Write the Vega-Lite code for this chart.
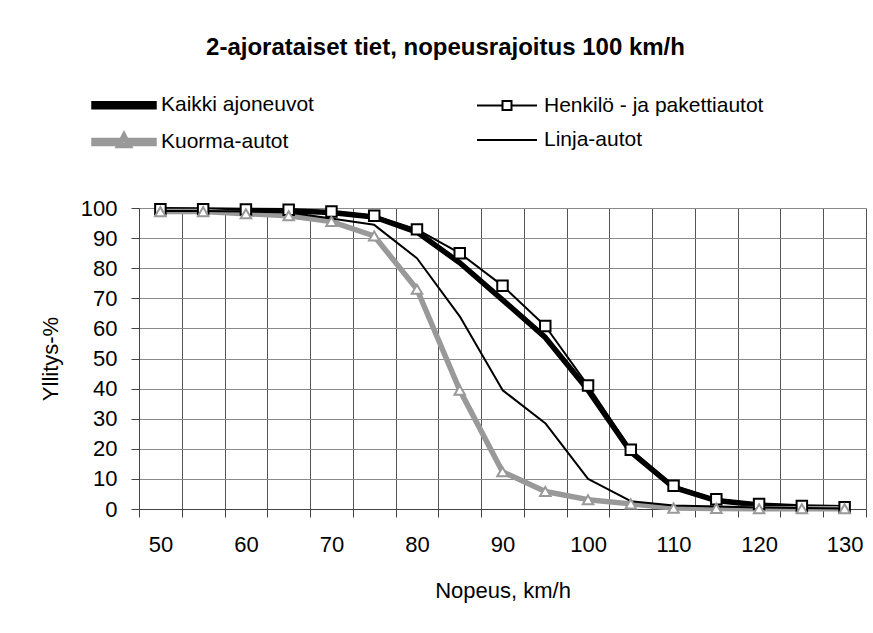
{
  "$schema": "https://vega.github.io/schema/vega-lite/v6.json",
  "width": 727,
  "height": 301,
  "autosize": {"type": "none"},
  "padding": {"left": 139, "top": 208, "right": 7, "bottom": 124},
  "background": "white",
  "config": {
    "view": {"stroke": null},
    "font": "Liberation Sans"
  },
  "title": {
    "text": "2-ajorataiset tiet, nopeusrajoitus 100 km/h",
    "font": "Liberation Sans",
    "fontSize": 24,
    "fontWeight": "bold",
    "color": "black",
    "anchor": "middle",
    "frame": "group",
    "dx": -57,
    "offset": 32
  },
  "data": {
    "values": [
      {"speed": 50, "series": "Kaikki ajoneuvot", "pct": 99.4},
      {"speed": 55, "series": "Kaikki ajoneuvot", "pct": 99.3},
      {"speed": 60, "series": "Kaikki ajoneuvot", "pct": 99.2},
      {"speed": 65, "series": "Kaikki ajoneuvot", "pct": 99.1},
      {"speed": 70, "series": "Kaikki ajoneuvot", "pct": 98.5},
      {"speed": 75, "series": "Kaikki ajoneuvot", "pct": 97.0},
      {"speed": 80, "series": "Kaikki ajoneuvot", "pct": 92.0},
      {"speed": 85, "series": "Kaikki ajoneuvot", "pct": 81.8},
      {"speed": 90, "series": "Kaikki ajoneuvot", "pct": 69.5},
      {"speed": 95, "series": "Kaikki ajoneuvot", "pct": 57.0},
      {"speed": 100, "series": "Kaikki ajoneuvot", "pct": 39.5},
      {"speed": 105, "series": "Kaikki ajoneuvot", "pct": 19.0},
      {"speed": 110, "series": "Kaikki ajoneuvot", "pct": 7.2},
      {"speed": 115, "series": "Kaikki ajoneuvot", "pct": 2.8},
      {"speed": 120, "series": "Kaikki ajoneuvot", "pct": 1.3},
      {"speed": 125, "series": "Kaikki ajoneuvot", "pct": 0.7},
      {"speed": 130, "series": "Kaikki ajoneuvot", "pct": 0.4},
      {"speed": 50, "series": "Henkilö - ja pakettiautot", "pct": 99.6},
      {"speed": 55, "series": "Henkilö - ja pakettiautot", "pct": 99.6},
      {"speed": 60, "series": "Henkilö - ja pakettiautot", "pct": 99.5},
      {"speed": 65, "series": "Henkilö - ja pakettiautot", "pct": 99.4},
      {"speed": 70, "series": "Henkilö - ja pakettiautot", "pct": 98.8},
      {"speed": 75, "series": "Henkilö - ja pakettiautot", "pct": 97.4},
      {"speed": 80, "series": "Henkilö - ja pakettiautot", "pct": 92.9},
      {"speed": 85, "series": "Henkilö - ja pakettiautot", "pct": 85.0},
      {"speed": 90, "series": "Henkilö - ja pakettiautot", "pct": 74.2},
      {"speed": 95, "series": "Henkilö - ja pakettiautot", "pct": 60.8},
      {"speed": 100, "series": "Henkilö - ja pakettiautot", "pct": 41.0},
      {"speed": 105, "series": "Henkilö - ja pakettiautot", "pct": 19.7},
      {"speed": 110, "series": "Henkilö - ja pakettiautot", "pct": 7.7},
      {"speed": 115, "series": "Henkilö - ja pakettiautot", "pct": 3.2},
      {"speed": 120, "series": "Henkilö - ja pakettiautot", "pct": 1.7},
      {"speed": 125, "series": "Henkilö - ja pakettiautot", "pct": 1.0},
      {"speed": 130, "series": "Henkilö - ja pakettiautot", "pct": 0.6},
      {"speed": 50, "series": "Kuorma-autot", "pct": 98.8},
      {"speed": 55, "series": "Kuorma-autot", "pct": 98.8},
      {"speed": 60, "series": "Kuorma-autot", "pct": 98.1},
      {"speed": 65, "series": "Kuorma-autot", "pct": 97.4},
      {"speed": 70, "series": "Kuorma-autot", "pct": 95.5},
      {"speed": 75, "series": "Kuorma-autot", "pct": 90.7},
      {"speed": 80, "series": "Kuorma-autot", "pct": 73.0},
      {"speed": 85, "series": "Kuorma-autot", "pct": 39.5},
      {"speed": 90, "series": "Kuorma-autot", "pct": 12.4},
      {"speed": 95, "series": "Kuorma-autot", "pct": 5.8},
      {"speed": 100, "series": "Kuorma-autot", "pct": 3.1},
      {"speed": 105, "series": "Kuorma-autot", "pct": 1.7},
      {"speed": 110, "series": "Kuorma-autot", "pct": 0.3},
      {"speed": 115, "series": "Kuorma-autot", "pct": 0.2},
      {"speed": 120, "series": "Kuorma-autot", "pct": 0.1},
      {"speed": 125, "series": "Kuorma-autot", "pct": 0.1},
      {"speed": 130, "series": "Kuorma-autot", "pct": 0.1},
      {"speed": 50, "series": "Linja-autot", "pct": 99.0},
      {"speed": 55, "series": "Linja-autot", "pct": 99.0},
      {"speed": 60, "series": "Linja-autot", "pct": 98.8},
      {"speed": 65, "series": "Linja-autot", "pct": 98.5},
      {"speed": 70, "series": "Linja-autot", "pct": 96.5},
      {"speed": 75, "series": "Linja-autot", "pct": 94.4},
      {"speed": 80, "series": "Linja-autot", "pct": 83.3},
      {"speed": 85, "series": "Linja-autot", "pct": 64.0},
      {"speed": 90, "series": "Linja-autot", "pct": 39.5},
      {"speed": 95, "series": "Linja-autot", "pct": 28.5},
      {"speed": 100, "series": "Linja-autot", "pct": 10.0},
      {"speed": 105, "series": "Linja-autot", "pct": 2.6},
      {"speed": 110, "series": "Linja-autot", "pct": 1.2},
      {"speed": 115, "series": "Linja-autot", "pct": 0.8},
      {"speed": 120, "series": "Linja-autot", "pct": 0.5},
      {"speed": 125, "series": "Linja-autot", "pct": 0.3},
      {"speed": 130, "series": "Linja-autot", "pct": 0.2}
    ]
  },
  "encoding": {
    "x": {
      "field": "speed",
      "type": "ordinal",
      "bandPosition": 0.5,
      "scale": {"type": "band", "paddingInner": 0, "paddingOuter": 0},
      "axis": {
        "title": "Nopeus, km/h",
        "titleFont": "Liberation Sans",
        "titleFontSize": 22,
        "titleFontWeight": "normal",
        "titleColor": "black",
        "titlePadding": 25,
        "labelFont": "Liberation Sans",
        "labelFontSize": 22,
        "labelColor": "black",
        "labelAngle": 0,
        "labelPadding": 17,
        "labelExpr": "datum.value % 10 === 0 ? datum.label : ''",
        "tickBand": "extent",
        "tickSize": 8,
        "tickColor": "#444444",
        "domainColor": "#444444",
        "grid": true,
        "gridColor": "#555555",
        "gridWidth": 1
      }
    },
    "y": {
      "field": "pct",
      "type": "quantitative",
      "scale": {"domain": [0, 100], "nice": false},
      "axis": {
        "title": "Yllitys-%",
        "titleFont": "Liberation Sans",
        "titleFontSize": 22,
        "titleFontWeight": "normal",
        "titleColor": "black",
        "titlePadding": 18,
        "labelFont": "Liberation Sans",
        "labelFontSize": 22,
        "labelColor": "black",
        "labelPadding": 14,
        "values": [0, 10, 20, 30, 40, 50, 60, 70, 80, 90, 100],
        "tickSize": 8,
        "tickColor": "#444444",
        "domainColor": "#444444",
        "grid": true,
        "gridColor": "#8a8a8a",
        "gridWidth": 1
      }
    }
  },
  "layer": [
    {
      "mark": {"type": "line", "strokeJoin": "round", "strokeCap": "butt"},
      "encoding": {
        "color": {
          "field": "series",
          "type": "nominal",
          "sort": ["Kaikki ajoneuvot", "Henkilö - ja pakettiautot", "Kuorma-autot", "Linja-autot"],
          "scale": {
            "domain": ["Kaikki ajoneuvot", "Henkilö - ja pakettiautot", "Kuorma-autot", "Linja-autot"],
            "range": ["#000000", "#000000", "#999999", "#000000"]
          },
          "legend": {
            "title": null,
            "orient": "none",
            "direction": "horizontal",
            "legendX": -28,
            "legendY": -116,
            "columns": 2,
            "padding": 0,
            "columnPadding": 159,
            "rowPadding": 7,
            "symbolSize": 400,
            "labelOffset": 24,
            "labelFont": "Liberation Sans",
            "labelFontSize": 21,
            "labelColor": "black",
            "labelLimit": 400,
            "encode": {
              "symbols": {
                "update": {
                  "shape": {"signal": "datum.value === 'Henkilö - ja pakettiautot' ? 'M-3,0H-0.45M0.45,0H3M-0.45,-0.45H0.45V0.45H-0.45Z' : datum.value === 'Kuorma-autot' ? 'M-3,-0.15H-0.5V0.15H-3ZM0.5,-0.15H3V0.15H0.5ZM-3,0H-0.5M0.5,0H3M0,-0.6L0.5,0.35L-0.5,0.35Z' : datum.value === 'Kaikki ajoneuvot' ? 'M-3,-0.15H3V0.15H-3ZM-3,0H3' : 'M-3,0H3'"},
                  "strokeWidth": {"value": 1.6},
                  "fill": {"value": "white"},
                  "fillOpacity": {"value": 1},
                  "opacity": {"value": 1}
                }
              }
            }
          }
        },
        "strokeWidth": {
          "field": "series",
          "type": "nominal",
          "scale": {
            "type": "ordinal",
            "domain": ["Kaikki ajoneuvot", "Henkilö - ja pakettiautot", "Kuorma-autot", "Linja-autot"],
            "range": [5.5, 2, 5.5, 2]
          },
          "legend": null
        }
      }
    },
    {
      "transform": [{"filter": "datum.series === 'Henkilö - ja pakettiautot' || datum.series === 'Kuorma-autot'"}],
      "mark": {"type": "point", "filled": false, "fill": "white", "fillOpacity": 1, "strokeWidth": 2, "opacity": 1, "size": 110},
      "encoding": {
        "stroke": {
          "field": "series",
          "type": "nominal",
          "scale": {
            "domain": ["Henkilö - ja pakettiautot", "Kuorma-autot"],
            "range": ["#000000", "#999999"]
          },
          "legend": null
        },
        "shape": {
          "field": "series",
          "type": "nominal",
          "scale": {
            "domain": ["Henkilö - ja pakettiautot", "Kuorma-autot"],
            "range": ["square", "triangle-up"]
          },
          "legend": null
        }
      }
    }
  ]
}
